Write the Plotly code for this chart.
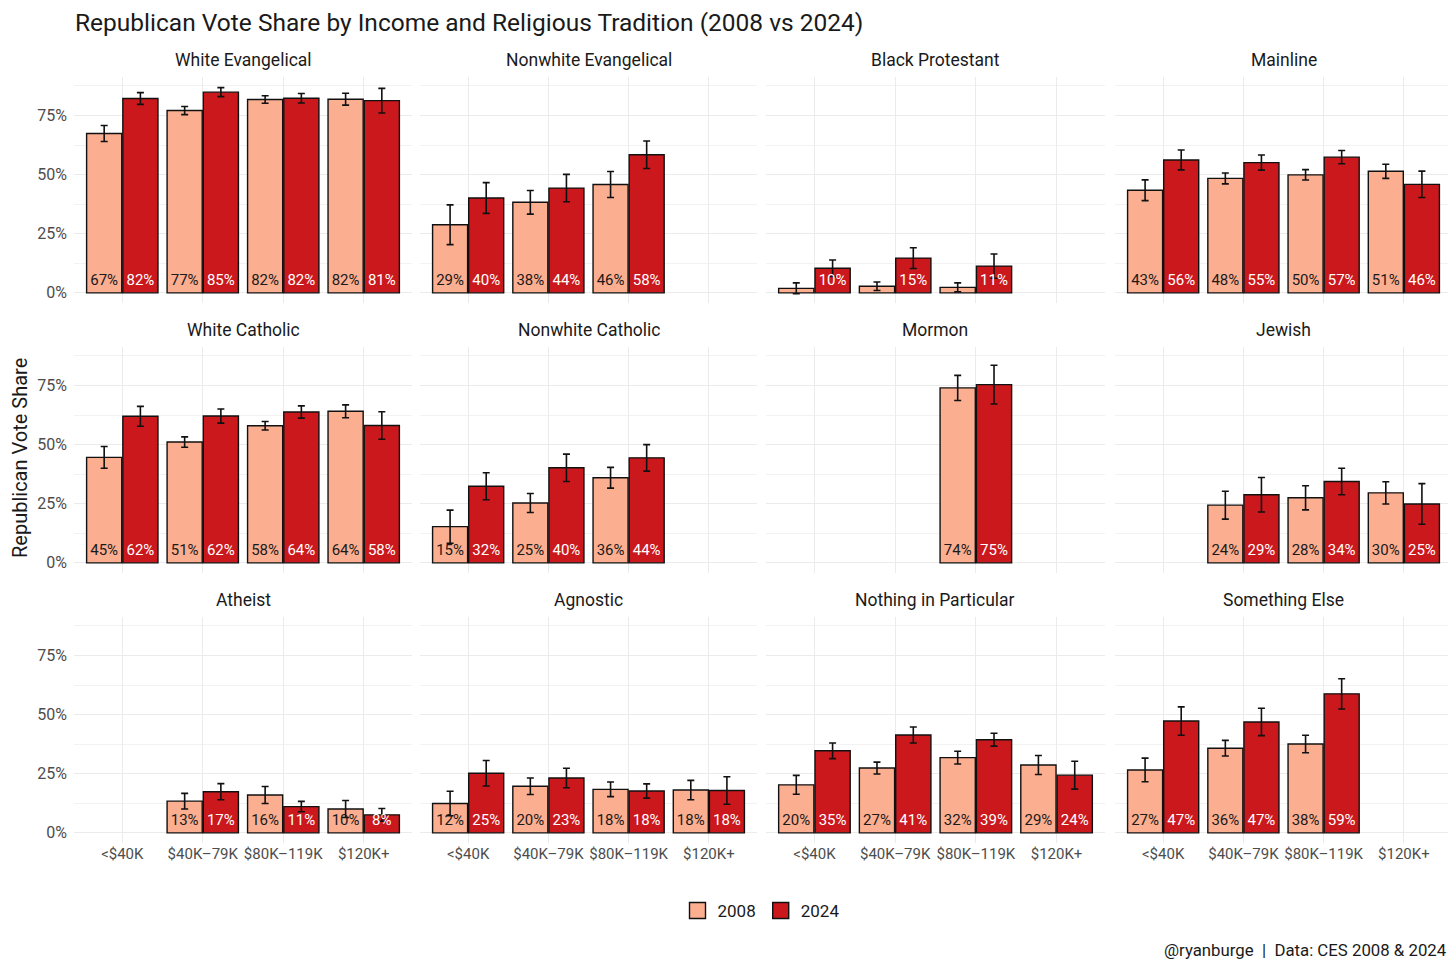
import plotly.graph_objects as go

INCOMES = ["&lt;$40K", "$40K–79K", "$80K–119K", "$120K+"]
TRADITIONS = ["White Evangelical", "Nonwhite Evangelical", "Black Protestant", "Mainline",
              "White Catholic", "Nonwhite Catholic", "Mormon", "Jewish",
              "Atheist", "Agnostic", "Nothing in Particular", "Something Else"]
YEARS = ["2008", "2024"]

# Republican vote share (%) per tradition, by income group
SHARE_2008 = [
    [67.4, 77.1, 81.8, 81.9],
    [28.8, 38.3, 45.8, None],
    [1.9, 2.8, 2.3, None],
    [43.4, 48.4, 49.9, 51.4],
    [44.6, 51.1, 58.0, 64.1],
    [15.3, 25.3, 36.0, None],
    [None, None, 74.0, None],
    [None, 24.4, 27.5, 29.6],
    [None, 13.4, 16.0, 10.1],
    [12.4, 19.7, 18.4, 18.1],
    [20.3, 27.4, 31.8, 28.7],
    [26.6, 35.8, 37.6, None],
]
SHARE_2024 = [
    [82.2, 84.9, 82.3, 81.3],
    [40.1, 44.3, 58.4, None],
    [10.4, 14.7, 11.3, None],
    [56.2, 55.1, 57.4, 45.9],
    [62.0, 62.1, 63.8, 58.1],
    [32.4, 40.2, 44.4, None],
    [None, None, 75.4, None],
    [None, 28.8, 34.4, 24.9],
    [None, 17.4, 11.1, 7.6],
    [25.2, 23.2, 17.7, 17.9],
    [34.7, 41.4, 39.4, 24.4],
    [47.3, 46.9, 58.8, None],
]
# half-width of 95% confidence intervals (percentage points)
ERR_2008 = [
    [3.4, 1.7, 1.6, 2.5],
    [8.4, 5.0, 5.5, None],
    [2.3, 1.8, 1.9, None],
    [4.4, 2.3, 2.2, 3.0],
    [4.6, 2.2, 1.8, 2.7],
    [7.0, 4.0, 4.4, None],
    [None, None, 5.3, None],
    [None, 5.9, 5.1, 4.7],
    [None, 3.3, 3.6, 3.6],
    [5.2, 3.5, 3.1, 4.1],
    [4.0, 2.5, 2.7, 4.0],
    [5.0, 3.3, 3.7, None],
]
ERR_2024 = [
    [2.5, 1.9, 2.0, 5.2],
    [6.5, 5.8, 5.8, None],
    [3.5, 4.4, 5.1, None],
    [4.2, 3.2, 2.8, 5.6],
    [4.2, 3.0, 2.6, 5.8],
    [5.7, 5.8, 5.6, None],
    [None, None, 8.2, None],
    [None, 7.3, 5.6, 8.6],
    [None, 3.4, 2.2, 2.7],
    [5.4, 4.1, 3.0, 5.8],
    [3.3, 3.4, 2.7, 5.9],
    [6.0, 5.8, 6.4, None],
]
Y_TICKS = [0, 25, 50, 75]
Y_TICK_LABELS = ["0%", "25%", "50%", "75%"]

W, H = 1456, 970
OFF = 8  # page body margin of the browser
FONT = "Roboto, sans-serif"
COLORS = {"2008": "#FCAE91", "2024": "#CB181D"}
TEXT_COLORS = {"2008": "#1a1a1a", "2024": "#FFFFFF"}
GRID = "#EBEBEB"

col_px = [(74, 412), (420, 757), (766, 1105), (1115, 1452)]
row_px = [(77, 303), (347, 573), (617, 843)]
LABEL_Y = 5


def px_x(p):
    return (p - OFF) / W


def px_y(p):
    return 1 - (p - OFF) / H


fig = go.Figure()
layout = dict(
    width=W, height=H, margin=dict(l=0, r=0, t=0, b=0),
    paper_bgcolor="white", plot_bgcolor="white",
    barmode="group", bargap=0.1, bargroupgap=0.03,
    scattermode="group", scattergap=0.1,
    font=dict(family=FONT, color="#1a1a1a"),
    showlegend=True,
    legend=dict(orientation="h", x=px_x(761), xanchor="center", y=px_y(911), yanchor="middle",
                font=dict(size=17, family=FONT, color="#1a1a1a"), traceorder="normal",
                itemwidth=30, itemsizing="trace"),
)
annotations = []

for i, trad in enumerate(TRADITIONS):
    r, c = divmod(i, 4)
    n = i + 1
    xa = "x" if n == 1 else f"x{n}"
    ya = "y" if n == 1 else f"y{n}"
    vals = {"2008": SHARE_2008[i], "2024": SHARE_2024[i]}
    errs = {"2008": ERR_2008[i], "2024": ERR_2024[i]}
    for yr in YEARS:
        fig.add_trace(go.Bar(
            x=INCOMES, y=vals[yr], name=yr, offsetgroup=yr, legendgroup=yr,
            showlegend=False,
            marker=dict(color=COLORS[yr], line=dict(color="#111111", width=1.4)),
            error_y=dict(type="data", array=errs[yr], color="#111111", thickness=1.6, width=3.5),
            xaxis=xa, yaxis=ya, hoverinfo="skip",
        ))
    for yr in YEARS:
        labels = [f"{round(v)}%" if (v is not None and v >= 5) else None for v in vals[yr]]
        fig.add_trace(go.Scatter(
            x=INCOMES, y=[LABEL_Y if t else None for t in labels], text=labels,
            mode="text", offsetgroup=yr, showlegend=False,
            textfont=dict(size=15, color=TEXT_COLORS[yr], family=FONT),
            textposition="middle center", xaxis=xa, yaxis=ya, hoverinfo="skip",
        ))
    x0, x1 = col_px[c]
    y0, y1 = row_px[r]
    xkey = "xaxis" if n == 1 else f"xaxis{n}"
    ykey = "yaxis" if n == 1 else f"yaxis{n}"
    layout[xkey] = dict(
        domain=[px_x(x0), px_x(x1)], anchor=ya, type="category",
        categoryorder="array", categoryarray=INCOMES, range=[-0.6, 3.6],
        showgrid=True, gridcolor=GRID, gridwidth=1.2, zeroline=False,
        showline=False, ticks="", showticklabels=(r == 2), tickangle=0,
        tickfont=dict(size=15, color="#4D4D4D", family=FONT),
        fixedrange=True,
    )
    layout[ykey] = dict(
        domain=[px_y(y1), px_y(y0)], anchor=xa, range=[-4.3, 91.3],
        tickvals=Y_TICKS, ticktext=Y_TICK_LABELS, showticklabels=(c == 0),
        showgrid=True, gridcolor=GRID, gridwidth=1.3, zeroline=False,
        minor=dict(tick0=12.5, dtick=25, showgrid=True, gridcolor="#F2F2F2", gridwidth=0.8),
        showline=False, ticks="", ticklabelstandoff=6,
        tickfont=dict(size=16, color="#4D4D4D", family=FONT),
        fixedrange=True,
    )
    annotations.append(dict(
        text=trad, x=px_x((x0 + x1) / 2), y=px_y(y0 - 17), xref="paper", yref="paper",
        xanchor="center", yanchor="middle", showarrow=False,
        font=dict(size=17.5, family=FONT, color="#1a1a1a"),
    ))

# legend entries (square keys for the two survey years)
for yr in YEARS:
    fig.add_trace(go.Scatter(
        x=[None], y=[None], mode="markers", name=yr, legendgroup=yr, showlegend=True,
        marker=dict(symbol="square", size=16, color=COLORS[yr],
                    line=dict(color="#111111", width=1.4)),
        xaxis="x", yaxis="y", hoverinfo="skip",
    ))

annotations.append(dict(
    text="Republican Vote Share by Income and Religious Tradition (2008 vs 2024)",
    x=px_x(74), y=px_y(23), xref="paper", yref="paper", xanchor="left", yanchor="middle",
    showarrow=False, borderpad=0, font=dict(size=24.5, family=FONT, color="#1a1a1a"),
))
annotations.append(dict(
    text="Republican Vote Share", x=px_x(20), y=px_y(458), xref="paper", yref="paper",
    xanchor="center", yanchor="middle", textangle=-90, showarrow=False, borderpad=0,
    font=dict(size=20, family=FONT, color="#1a1a1a"),
))
annotations.append(dict(
    text="@ryanburge  |  Data: CES 2008 &amp; 2024", x=px_x(1449), y=px_y(950),
    xref="paper", yref="paper", xanchor="right", yanchor="middle", showarrow=False,
    font=dict(size=16.8, family=FONT, color="#1a1a1a"),
))
layout["annotations"] = annotations
fig.update_layout(**layout)
fig.write_html("out.html")
